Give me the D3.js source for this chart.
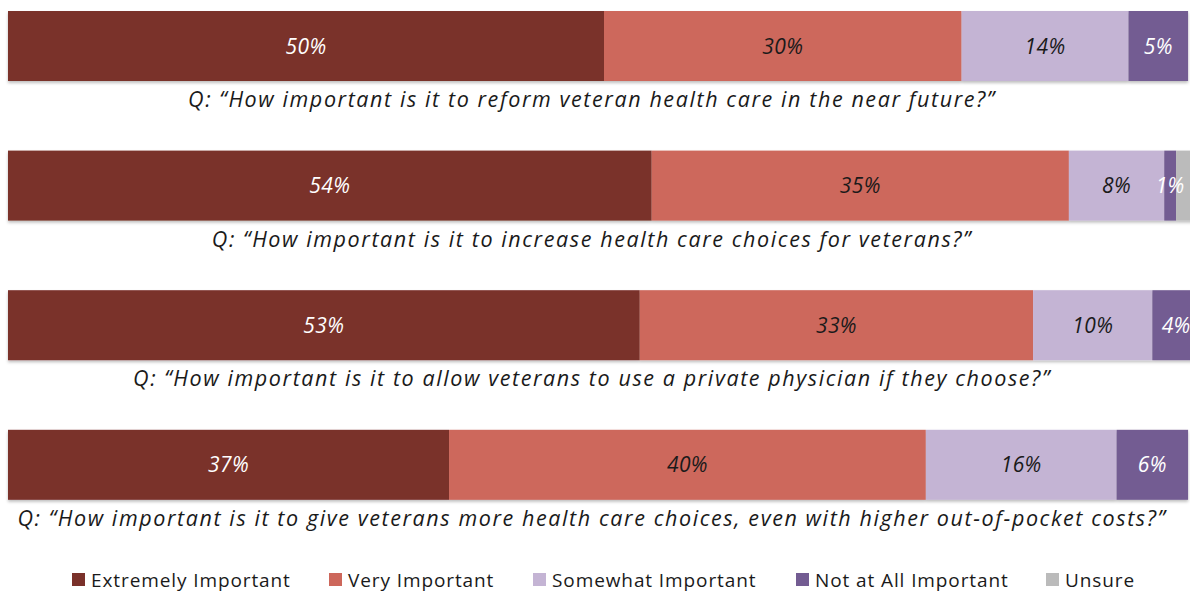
<!DOCTYPE html>
<html>
<head>
<meta charset="utf-8">
<script src="https://cdn.jsdelivr.net/npm/d3@7"></script>
<style>
  html, body { margin: 0; padding: 0; background: #ffffff; }
  svg { display: block; }
</style>
</head>
<body>
<svg id="chart" width="1190" height="592"></svg>
<script>
// Survey questions, one stacked bar each
const questions = [
  "Q: \u201cHow important is it to reform veteran health care in the near future?\u201d",
  "Q: \u201cHow important is it to increase health care choices for veterans?\u201d",
  "Q: \u201cHow important is it to allow veterans to use a private physician if they choose?\u201d",
  "Q: \u201cHow important is it to give veterans more health care choices, even with higher out-of-pocket costs?\u201d"
];

// Response categories
const responses = ["Extremely Important", "Very Important", "Somewhat Important", "Not at All Important", "Unsure"];

// Percentages per response, one entry per question
const extremely   = [50, 54, 53, 37];
const very        = [30, 35, 33, 40];
const somewhat    = [14, 8, 10, 16];
const notAtAll    = [5, 1, 4, 6];
const unsure      = [0, 2, 0, 0];

const colors = ["#7a312a", "#cd675b", "#c4b4d4", "#735c92", "#bbbbbb"];
const labelColors = ["#ffffff", "#1a1a1a", "#1a1a1a", "#ffffff", "#ffffff"];

const rows = questions.map((q, i) => ({
  question: q,
  "Extremely Important": extremely[i],
  "Very Important": very[i],
  "Somewhat Important": somewhat[i],
  "Not at All Important": notAtAll[i],
  "Unsure": unsure[i]
}));

const svg = d3.select("#chart");
const font = "'Open Sans', sans-serif";

const defs = svg.append("defs");
const shadow = defs.append("filter").attr("id", "barShadow")
  .attr("x", "-2%").attr("y", "-10%").attr("width", "104%").attr("height", "130%");
shadow.append("feDropShadow")
  .attr("dx", 0).attr("dy", 2).attr("stdDeviation", 1.5)
  .attr("flood-color", "#000").attr("flood-opacity", 0.25);

const x = d3.scaleLinear().domain([0, 100]).range([8, 1200]);
const bandStep = 139.6;
const barH = 70;
const yTop = i => 11 + i * bandStep;

const series = d3.stack().keys(responses)(rows);

const color = d3.scaleOrdinal().domain(responses).range(colors);
const labelColor = d3.scaleOrdinal().domain(responses).range(labelColors);

// One group per question bar, sharing a soft drop shadow
const rowG = svg.selectAll("g.row").data(rows).join("g")
  .attr("class", "row")
  .attr("filter", "url(#barShadow)");

series.forEach(s => {
  s.forEach((d, i) => {
    if (d[1] - d[0] <= 0) return;
    rowG.filter((r, j) => j === i)
      .append("rect")
      .attr("x", x(d[0]))
      .attr("y", yTop(i))
      .attr("width", x(d[1]) - x(d[0]))
      .attr("height", barH)
      .attr("fill", color(s.key));
  });
});

// Value labels inside segments
series.forEach(s => {
  s.forEach((d, i) => {
    const v = d[1] - d[0];
    if (v <= 0 || s.key === "Unsure") return;
    svg.append("text")
      .attr("x", (x(d[0]) + x(d[1])) / 2)
      .attr("y", yTop(i) + barH / 2)
      .attr("dy", "0.36em")
      .attr("text-anchor", "middle")
      .attr("font-family", font)
      .attr("font-style", "italic")
      .attr("font-size", 21)
      .attr("letter-spacing", 0.4)
      .attr("fill", labelColor(s.key))
      .text(v + "%");
  });
});

// Question captions under each bar
svg.selectAll("text.question").data(questions).join("text")
  .attr("class", "question")
  .attr("x", 592)
  .attr("y", (d, i) => yTop(i) + barH + 26)
  .attr("text-anchor", "middle")
  .attr("font-family", font)
  .attr("font-style", "italic")
  .attr("font-size", 21.5)
  .attr("letter-spacing", 1.6)
  .attr("fill", "#1a1a1a")
  .text(d => d);

// Legend
const legendX = [72, 329, 533, 796, 1046];
const legend = svg.selectAll("g.legend").data(responses).join("g")
  .attr("class", "legend")
  .attr("transform", (d, i) => `translate(${legendX[i]},580)`);
legend.append("rect")
  .attr("x", 0).attr("y", -7)
  .attr("width", 13).attr("height", 13)
  .attr("fill", d => color(d));
legend.append("text")
  .attr("x", 19).attr("y", 0)
  .attr("dy", "0.36em")
  .attr("font-family", font)
  .attr("font-size", 19)
  .attr("letter-spacing", 0.9)
  .attr("fill", "#1a1a1a")
  .text(d => d);
</script>
</body>
</html>
